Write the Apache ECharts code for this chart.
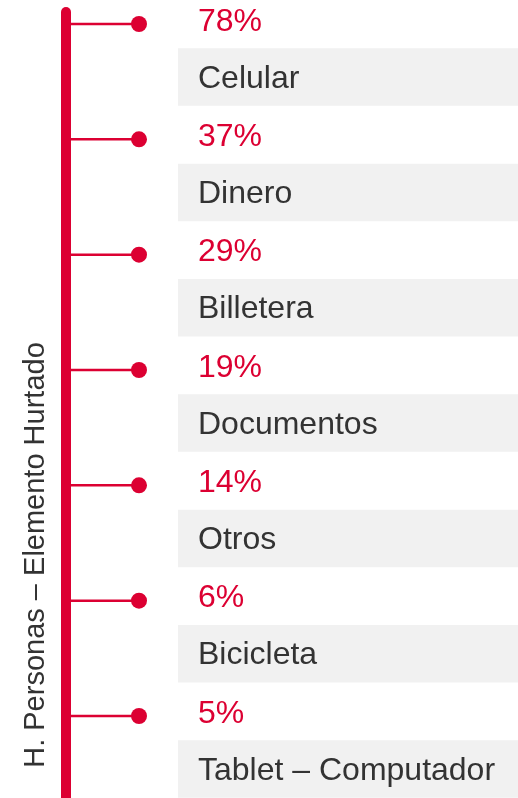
<!DOCTYPE html>
<html>
<head>
    <meta charset="utf-8" />
    <title>H. Personas – Elemento Hurtado</title>
    <script type="text/javascript" src="https://cdn.jsdelivr.net/npm/echarts@6/dist/echarts.min.js"></script>
    <style>
        html, body { margin: 0; padding: 0; background: #fff; }
    </style>
</head>
<body>
<div id="main" style="width: 518px;height:798px;"></div>
<script type="text/javascript">
    // datos del grafico
    var categorias = ['Celular', 'Dinero', 'Billetera', 'Documentos', 'Otros', 'Bicicleta', 'Tablet – Computador'];
    var valores = [78, 37, 29, 19, 14, 6, 5];
    var titulo = 'H. Personas – Elemento Hurtado';

    var rojo = '#dc0032';
    var gris = '#f1f1f1';
    var texto = '#333333';
    var fuente = '"Liberation Sans", Arial, sans-serif';

    var myChart = echarts.init(document.getElementById('main'));

    // cada item: rama + punto + porcentaje + caja gris con el nombre
    function renderItem(params, api) {
        var idx = api.value(0);
        var p = api.coord([0, idx]);
        var y = p[1];
        return {
            type: 'group',
            children: [
                {
                    type: 'line',
                    shape: { x1: 70, y1: y, x2: 139, y2: y },
                    style: { stroke: rojo, lineWidth: 2.5 }
                },
                {
                    type: 'circle',
                    shape: { cx: 139, cy: y, r: 8 },
                    style: { fill: rojo }
                },
                {
                    type: 'text',
                    x: 198, y: y - 2,
                    style: {
                        text: api.value(1) + '%',
                        fill: rojo, font: '32px ' + fuente,
                        textAlign: 'left', textVerticalAlign: 'middle'
                    }
                },
                {
                    type: 'rect',
                    shape: { x: 178, y: y + 24.3, width: 340, height: 57.5 },
                    style: { fill: gris }
                },
                {
                    type: 'text',
                    x: 198, y: y + 55,
                    style: {
                        text: categorias[idx],
                        fill: texto, font: '32px ' + fuente,
                        textAlign: 'left', textVerticalAlign: 'middle'
                    }
                }
            ]
        };
    }

    var option = {
        animation: false,
        grid: { left: 0, right: 0, top: 24, bottom: 82 },
        xAxis: { type: 'value', min: 0, max: 518, show: false },
        yAxis: {
            type: 'category',
            data: categorias,
            inverse: true,
            boundaryGap: false,
            show: false
        },
        graphic: [
            {
                type: 'line',
                shape: { x1: 66, y1: 12, x2: 66, y2: 810 },
                style: { stroke: rojo, lineWidth: 10, lineCap: 'round' },
                z: 10
            },
            {
                type: 'text',
                x: 36, y: 555,
                rotation: Math.PI / 2,
                style: {
                    text: titulo,
                    fill: texto, font: '29px ' + fuente,
                    textAlign: 'center', textVerticalAlign: 'middle'
                }
            }
        ],
        series: [
            {
                type: 'custom',
                renderItem: renderItem,
                encode: { x: 1, y: 0 },
                data: valores.map(function (v, i) { return [i, v]; })
            }
        ]
    };
    myChart.setOption(option);
</script>
</body>
</html>
